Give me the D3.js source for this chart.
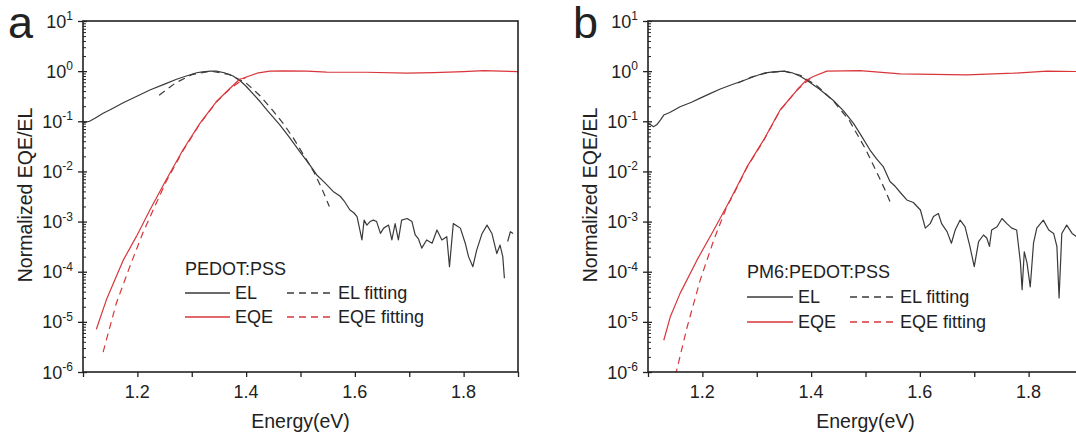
<!DOCTYPE html>
<html>
<head>
<meta charset="utf-8">
<script src="https://cdn.jsdelivr.net/npm/d3@7"></script>
<style>
  body { margin: 0; background: #fff; }
  text { font-family: "Liberation Sans", Arial, sans-serif; fill: #222; }
</style>
</head>
<body>
<div id="chart"></div>
<script>
// ---- data: [energy (eV), normalized value] ----
const xTicks = [1.2, 1.4, 1.6, 1.8];
const yTickExp = [-6, -5, -4, -3, -2, -1, 0, 1];
const panelLetters = ["a", "b"];
const panelTitles = ["PEDOT:PSS", "PM6:PEDOT:PSS"];
const legendLabels = ["EL", "EQE", "EL fitting", "EQE fitting"];

// panel a
const elA = [
  [1.100, 0.093], [1.112, 0.10], [1.122, 0.115], [1.137, 0.145], [1.15, 0.17], [1.174, 0.234],
  [1.20, 0.32], [1.223, 0.42], [1.25, 0.55], [1.272, 0.69], [1.29, 0.80], [1.309, 0.93],
  [1.32, 0.97], [1.335, 1.0], [1.345, 1.0], [1.36, 0.93], [1.376, 0.80], [1.39, 0.63],
  [1.40, 0.50], [1.426, 0.245], [1.44, 0.16], [1.462, 0.085], [1.48, 0.047], [1.499, 0.0245],
  [1.515, 0.0145], [1.530, 0.0085], [1.545, 0.0059], [1.560, 0.0040], [1.573, 0.0032],
  [1.580, 0.0026], [1.591, 0.0017], [1.598, 0.0015], [1.604, 0.00126], [1.613, 0.00043],
  [1.617, 0.00107], [1.622, 0.00085], [1.628, 0.0010], [1.634, 0.00107], [1.640, 0.0010],
  [1.647, 0.00058], [1.653, 0.00074], [1.662, 0.00085], [1.668, 0.00043], [1.674, 0.00091],
  [1.680, 0.00043], [1.686, 0.00107], [1.696, 0.00115], [1.705, 0.0010], [1.711, 0.00054],
  [1.717, 0.00045], [1.723, 0.000295], [1.732, 0.00043], [1.742, 0.00037], [1.751, 0.00068],
  [1.760, 0.00043], [1.769, 0.00050], [1.774, 0.000126], [1.781, 0.00091], [1.788, 0.00082],
  [1.794, 0.00074], [1.803, 0.00037], [1.809, 0.00020], [1.817, 0.000126], [1.824, 0.00027],
  [1.834, 0.00058], [1.843, 0.00085], [1.852, 0.00058], [1.861, 0.00023], [1.867, 0.00034],
  [1.872, 0.00020], [1.875, 0.000074], null,
  [1.881, 0.00040], [1.886, 0.00063], [1.891, 0.00058]
];
const elFitA = [
  [1.240, 0.33], [1.270, 0.58], [1.300, 0.85], [1.335, 1.0], [1.370, 0.85], [1.400, 0.58],
  [1.426, 0.32], [1.450, 0.16], [1.468, 0.091], [1.487, 0.046], [1.505, 0.022],
  [1.524, 0.010], [1.539, 0.0046], [1.553, 0.0020]
];
const eqeA = [
  [1.1245, 7.1e-6], [1.143, 2.75e-5], [1.16, 7.5e-5], [1.174, 1.7e-4], [1.198, 5.0e-4],
  [1.223, 1.7e-3], [1.253, 6.8e-3], [1.284, 0.027], [1.315, 0.091], [1.345, 0.245],
  [1.370, 0.45], [1.388, 0.69], [1.394, 0.72], [1.420, 0.91], [1.444, 1.0], [1.47, 1.01],
  [1.512, 1.0], [1.548, 0.955], [1.62, 0.95], [1.696, 0.91], [1.745, 0.93], [1.80, 0.98],
  [1.837, 1.02], [1.90, 0.98]
];
const eqeFitA = [
  [1.137, 2.5e-6], [1.161, 2.3e-5], [1.186, 1.26e-4], [1.210, 5.9e-4], [1.229, 1.7e-3],
  [1.253, 6.3e-3], [1.284, 0.026], [1.315, 0.089], [1.345, 0.24], [1.370, 0.44], [1.40, 0.76]
];

// panel b
const elB = [
  [1.100, 0.091], [1.105, 0.085], [1.110, 0.078], [1.116, 0.085], [1.123, 0.107], [1.129, 0.133],
  [1.140, 0.15], [1.159, 0.195], [1.18, 0.24], [1.196, 0.29], [1.215, 0.36], [1.233, 0.44],
  [1.255, 0.54], [1.276, 0.65], [1.295, 0.78], [1.313, 0.91], [1.33, 0.97], [1.350, 1.0],
  [1.365, 0.93], [1.380, 0.79], [1.392, 0.66], [1.415, 0.44], [1.441, 0.26], [1.46, 0.16],
  [1.478, 0.091], [1.493, 0.05], [1.508, 0.027], [1.520, 0.018], [1.533, 0.0123],
  [1.545, 0.0063], [1.555, 0.0050], [1.564, 0.0038], [1.576, 0.0027], [1.588, 0.0024],
  [1.601, 0.0017], [1.610, 0.00074], [1.619, 0.00091], [1.625, 0.00126], [1.634, 0.00145],
  [1.640, 0.00091], [1.650, 0.00063], [1.658, 0.00037], [1.665, 0.00068], [1.674, 0.00107],
  [1.683, 0.00079], [1.692, 0.00032], [1.700, 0.000126], [1.708, 0.00040], [1.717, 0.00054],
  [1.723, 0.00047], [1.728, 0.00032], [1.732, 0.00068], [1.742, 0.00079], [1.751, 0.00115],
  [1.760, 0.00091], [1.769, 0.00074], [1.778, 0.00068], [1.785, 0.00015], [1.788, 0.000044],
  [1.792, 0.00025], [1.797, 0.00015], [1.803, 0.000050], [1.809, 0.00037], [1.815, 0.00074],
  [1.827, 0.00107], [1.837, 0.00068], [1.846, 0.00058], [1.852, 0.00032], [1.856, 0.000030],
  [1.861, 0.00058], [1.870, 0.00085], [1.880, 0.00058], [1.888, 0.00050], [1.90, 0.00050]
];
const elFitB = [
  [1.265, 0.58], [1.29, 0.76], [1.32, 0.93], [1.35, 1.0], [1.38, 0.83], [1.41, 0.52],
  [1.44, 0.26], [1.47, 0.105], [1.50, 0.028], [1.52, 0.010], [1.535, 0.0045], [1.548, 0.0021]
];
const eqeB = [
  [1.129, 4.3e-6], [1.141, 1.26e-5], [1.159, 3.7e-5], [1.190, 1.7e-4], [1.221, 6.8e-4],
  [1.251, 2.7e-3], [1.282, 0.0123], [1.313, 0.043], [1.343, 0.168], [1.374, 0.42],
  [1.391, 0.66], [1.404, 0.78], [1.429, 1.0], [1.49, 1.02], [1.564, 0.88], [1.686, 0.84],
  [1.772, 0.91], [1.834, 1.0], [1.90, 0.98]
];
const eqeFitB = [
  [1.145, 5e-7], [1.152, 1e-6], [1.172, 7.9e-6], [1.196, 6.8e-5], [1.221, 4.3e-4],
  [1.245, 2.0e-3], [1.258, 3.6e-3], [1.282, 0.012], [1.313, 0.042], [1.343, 0.166],
  [1.374, 0.42], [1.40, 0.74]
];

const elColor = "#3a3a3a";
const eqeColor = "#d9363a";

const W = 1076, H = 438;
const plotW = 435, plotH = 351, plotTop = 21;

const svg = d3.select("#chart").append("svg")
  .attr("width", W).attr("height", H);

const panels = [
  { left: 83, el: elA, elFit: elFitA, eqe: eqeA, eqeFit: eqeFitA,
    leg: { x: 102, y: 254, dy: 24, line: 45, lab: 152, dash: 204, dlab: 255 } },
  { left: 648, el: elB, elFit: elFitB, eqe: eqeB, eqeFit: eqeFitB,
    leg: { x: 99, y: 257, dy: 25, line: 46, lab: 150, dash: 202, dlab: 252 } }
];

panels.forEach((p, i) => {
  const g = svg.append("g").attr("transform", `translate(${p.left},${plotTop})`);

  const x = d3.scaleLinear().domain([1.1, 1.9]).range([0, plotW]);
  const y = d3.scaleLog().domain([1e-6, 10]).range([plotH, 0]);

  g.append("clipPath").attr("id", "clip" + i)
    .append("rect").attr("width", plotW).attr("height", plotH);

  const line = d3.line()
    .defined(d => d != null)
    .x(d => x(d[0]))
    .y(d => y(d[1]));

  const curves = g.append("g").attr("clip-path", `url(#clip${i})`);
  curves.append("path").attr("d", line(p.elFit))
    .attr("fill", "none").attr("stroke", elColor).attr("stroke-width", 1.2)
    .attr("stroke-dasharray", "7,5");
  curves.append("path").attr("d", line(p.eqeFit))
    .attr("fill", "none").attr("stroke", eqeColor).attr("stroke-width", 1.2)
    .attr("stroke-dasharray", "7,5");
  curves.append("path").attr("d", line(p.el))
    .attr("fill", "none").attr("stroke", elColor).attr("stroke-width", 1.2)
    .attr("stroke-linejoin", "round");
  curves.append("path").attr("d", line(p.eqe))
    .attr("fill", "none").attr("stroke", eqeColor).attr("stroke-width", 1.2)
    .attr("stroke-linejoin", "round");

  // x axis: ticks every 0.1, labels at 0.2
  const xAxis = g.append("g").attr("transform", `translate(0,${plotH})`)
    .call(d3.axisBottom(x)
      .tickValues(d3.range(1.1, 1.91, 0.1))
      .tickSize(5)
      .tickFormat(""));
  xAxis.selectAll("text").remove();
  xAxis.select(".domain").remove();
  xAxis.selectAll("line").attr("stroke", "#222").attr("stroke-width", 1.3);

  xTicks.forEach(t => {
    g.append("text")
      .attr("x", x(t)).attr("y", plotH + 26)
      .attr("text-anchor", "middle")
      .style("font-size", "18px")
      .text(t.toFixed(1));
  });

  // y axis: major ticks out, minor log ticks in
  const minor = [];
  for (let e = -6; e < 1; e++) for (let m = 2; m <= 9; m++) minor.push(m * Math.pow(10, e));
  const yMinor = g.append("g")
    .call(d3.axisRight(y).tickValues(minor).tickSize(3).tickFormat(""));
  yMinor.select(".domain").remove();
  yMinor.selectAll("line").attr("stroke", "#222").attr("stroke-width", 1);

  const yMajor = g.append("g")
    .call(d3.axisLeft(y).tickValues(yTickExp.map(e => Math.pow(10, e))).tickSize(5).tickFormat(""));
  yMajor.select(".domain").remove();
  yMajor.selectAll("line").attr("stroke", "#222").attr("stroke-width", 1.3);
  const yMajorIn = g.append("g")
    .call(d3.axisRight(y).tickValues(yTickExp.map(e => Math.pow(10, e))).tickSize(4).tickFormat(""));
  yMajorIn.select(".domain").remove();
  yMajorIn.selectAll("line").attr("stroke", "#222").attr("stroke-width", 1.3);

  yTickExp.forEach(e => {
    const t = g.append("text")
      .attr("x", -10).attr("y", y(Math.pow(10, e)) + 6.5)
      .attr("text-anchor", "end")
      .style("font-size", "18px");
    t.append("tspan").text("10");
    t.append("tspan").attr("dy", -7.5).style("font-size", "12px").text(String(e));
  });

  // frame
  g.append("rect").attr("width", plotW).attr("height", plotH)
    .attr("fill", "none").attr("stroke", "#222").attr("stroke-width", 1.6);

  // axis titles
  g.append("text")
    .attr("x", plotW / 2).attr("y", plotH + 56)
    .attr("text-anchor", "middle")
    .style("font-size", "19.5px")
    .text("Energy(eV)");
  g.append("text")
    .attr("transform", `translate(-51,${174}) rotate(-90)`)
    .attr("text-anchor", "middle")
    .style("font-size", "19.5px")
    .text("Normalized EQE/EL");

  // panel letter
  svg.append("text")
    .attr("x", p.left - 75).attr("y", 38)
    .style("font-size", "45px")
    .text(panelLetters[i]);

  // legend
  const L = p.leg;
  const leg = g.append("g");
  leg.append("text").attr("x", L.x).attr("y", L.y)
    .style("font-size", "18px").text(panelTitles[i]);
  const rows = [
    { c: elColor, label: legendLabels[0], fit: legendLabels[2] },
    { c: eqeColor, label: legendLabels[1], fit: legendLabels[3] }
  ];
  rows.forEach((r, k) => {
    const ly = Math.round(L.y + L.dy * (k + 1) - 6);
    leg.append("line").attr("x1", L.x).attr("x2", L.x + L.line)
      .attr("y1", ly).attr("y2", ly)
      .style("stroke", r.c).attr("stroke-width", 1.3);
    leg.append("text").attr("x", L.lab).attr("y", ly + 6)
      .style("font-size", "18px").text(r.label);
    leg.append("line").attr("x1", L.dash).attr("x2", L.dash + L.line)
      .attr("y1", ly).attr("y2", ly)
      .style("stroke", r.c).attr("stroke-width", 1.3)
      .attr("stroke-dasharray", "7,5");
    leg.append("text").attr("x", L.dlab).attr("y", ly + 6)
      .style("font-size", "18px").text(r.fit);
  });
});
</script>
</body>
</html>
